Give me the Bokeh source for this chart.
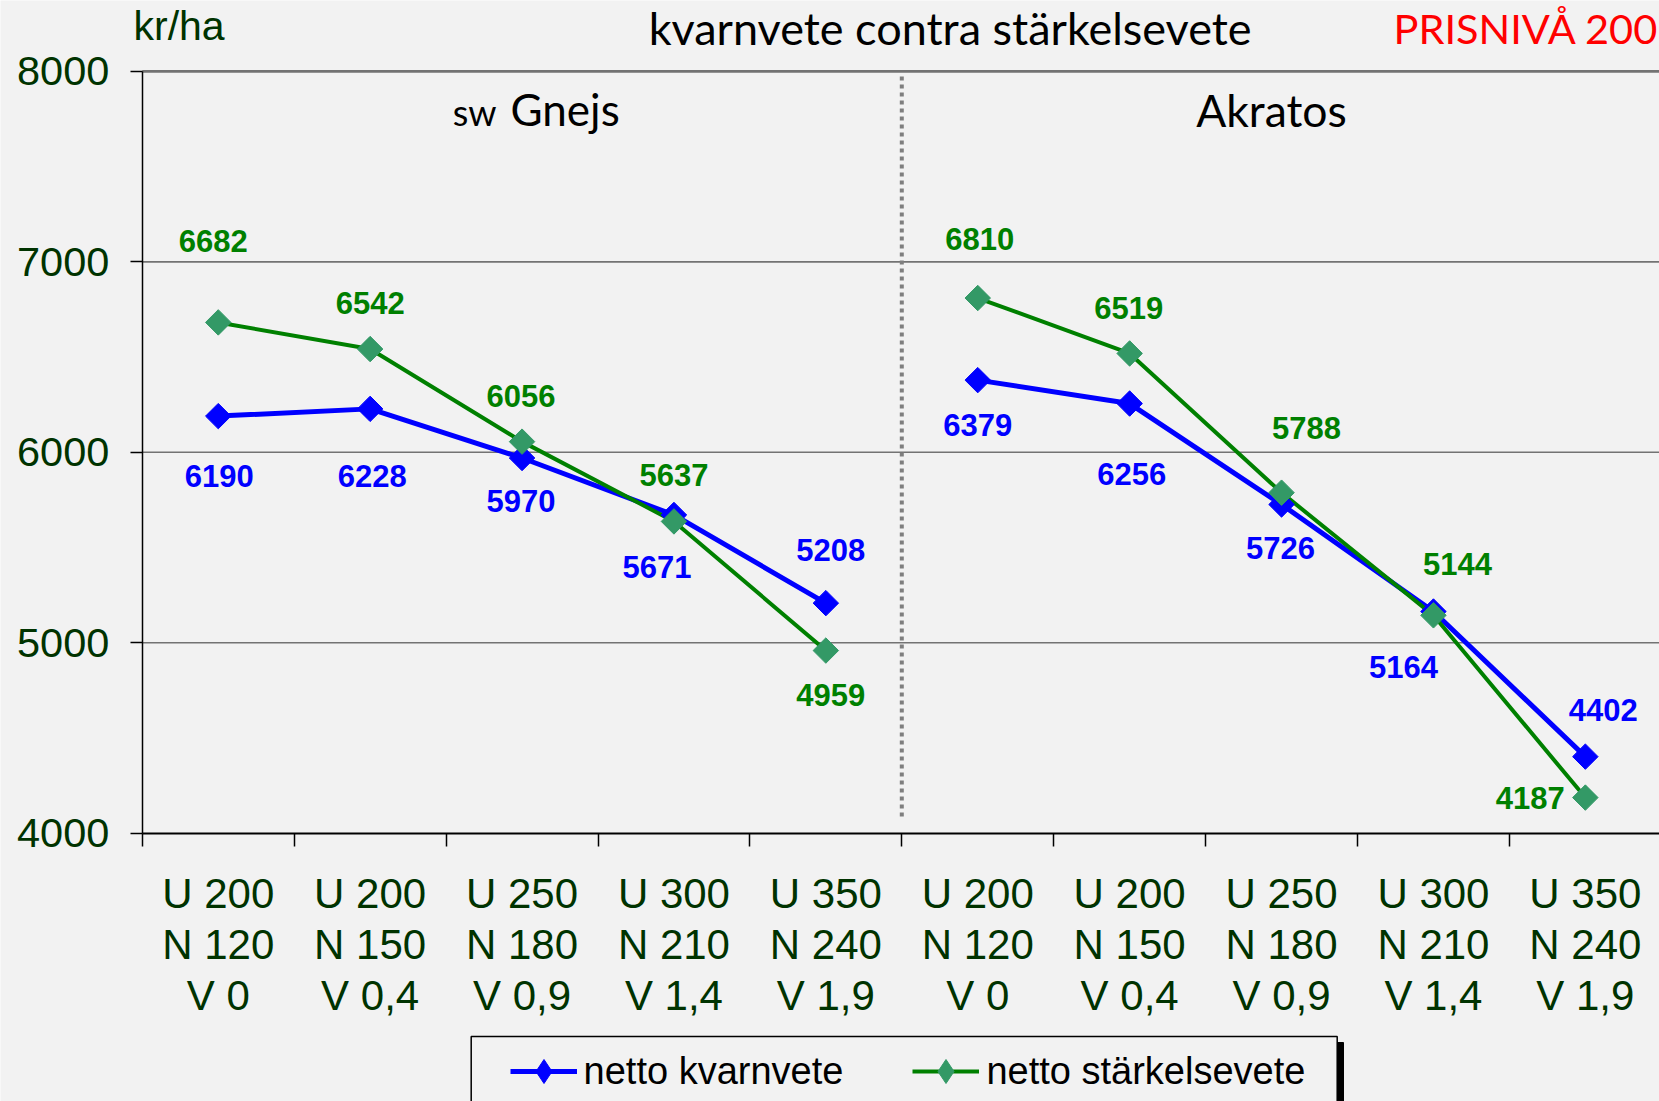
import numpy as np
from bokeh.plotting import figure
from bokeh.models import (ColumnDataSource, FixedTicker, Range1d, Legend,
                          LegendItem, BoxAnnotation)
from bokeh.core.properties import value
from bokeh.embed import file_html
from bokeh.resources import INLINE

# ---------------- data ----------------
groups = ["sw Gnejs", "Akratos"]
treatments = ["U 200\nN 120\nV 0", "U 200\nN 150\nV 0,4", "U 250\nN 180\nV 0,9",
              "U 300\nN 210\nV 1,4", "U 350\nN 240\nV 1,9"]
categories = treatments + treatments
kvarnvete = [6190, 6228, 5970, 5671, 5208, 6379, 6256, 5726, 5164, 4402]
starkelsevete = [6682, 6542, 6056, 5637, 4959, 6810, 6519, 5788, 5144, 4187]
y_ticks = [4000, 5000, 6000, 7000, 8000]
series_names = ["netto kvarnvete", "netto stärkelsevete"]
title_text = "kvarnvete contra stärkelsevete"
price_text = "PRISNIVÅ 200"
unit_text = "kr/ha"

# label placement offsets (pixels)
kv_dx = [1, 2, -1, -17, 5, 0, 2, -1, -30, 18]
kv_dy = [60, 67, 43, 52, -53, 45, 70, 44, 55, -47]
st_dx = [-5, 0, -1, 0, 5, 2, -1, 25, 24, -55]
st_dy = [-81, -46, -46, -46, 44, -59, -45, -65, -51, 0]

# ---------------- layout (pixels) ----------------
W, H = 1659, 1101
X0_PX, CAT_PX = 141.8, 151.9          # pixel of x=0, width of one category
YTOP_PX, YBOT_PX = 70.9, 832.7         # pixel of top / bottom y tick
ppu = (YBOT_PX - YTOP_PX) / (y_ticks[-1] - y_ticks[0])


def dx(px):
    return (px - X0_PX) / CAT_PX


def dy(py):
    return y_ticks[0] + (YBOT_PX - py) / ppu


DARK_GREEN = "#003300"
BG = "#f2f2f2"
BLUE = "#0000ff"
GREEN = "#008000"
GREEN_MK = "#339966"
ARIAL = "Liberation Sans"
CALIBRI = "Lato"

ncat = len(categories)
xpos = [i + 0.5 for i in range(ncat)]

p = figure(width=W, height=H, output_backend="svg", toolbar_location=None, title=None,
           x_range=Range1d(dx(0), dx(W)), y_range=Range1d(dy(H), dy(0)),
           min_border=0, min_border_left=0, min_border_right=0,
           min_border_top=0, min_border_bottom=0,
           background_fill_color=BG, border_fill_color=BG, outline_line_color=None)

# axes drawn at fixed data locations
xa = p.xaxis[0]
xa.fixed_location = y_ticks[0]
xa.bounds = (0, ncat)
xa.ticker = FixedTicker(ticks=xpos, minor_ticks=list(range(ncat + 1)))
xa.major_label_overrides = {x: c for x, c in zip(xpos, categories)}
xa.major_tick_out = 0
xa.major_tick_in = 0
xa.minor_tick_out = 13
xa.minor_tick_in = 0
xa.minor_tick_line_color = "black"
xa.minor_tick_line_width = 1.5
xa.axis_line_color = "black"
xa.axis_line_width = 2
xa.major_label_text_font = ARIAL
xa.major_label_text_font_size = "42px"
xa.major_label_text_color = DARK_GREEN
xa.major_label_text_line_height = 1.08
xa.major_label_standoff = 24

ya = p.yaxis[0]
ya.fixed_location = 0
ya.bounds = (y_ticks[0], y_ticks[-1])
ya.ticker = FixedTicker(ticks=y_ticks, minor_ticks=[])
ya.major_tick_out = 12
ya.major_tick_in = 0
ya.major_tick_line_color = "black"
ya.major_tick_line_width = 1.5
ya.axis_line_color = "black"
ya.axis_line_width = 1.5
ya.major_label_text_font = ARIAL
ya.major_label_text_font_size = "41.5px"
ya.major_label_text_color = DARK_GREEN
ya.major_label_standoff = 21

p.xgrid.visible = False
p.ygrid.visible = False

# horizontal grid lines (from the y axis to the right edge)
gy = y_ticks[1:]
p.segment(x0=[0] * len(gy), x1=[ncat] * len(gy), y0=gy, y1=gy,
          line_color="#737373", line_width=[1.6] * (len(gy) - 1) + [2.6])

# dotted separator between groups
p.segment(x0=[len(treatments)], x1=[len(treatments)], y0=[dy(76)], y1=[dy(820)],
          line_color="#7f7f7f", line_width=4, line_dash="4 4")

src = ColumnDataSource(dict(x=xpos, kv=kvarnvete, st=starkelsevete,
                            kvt=[str(v) for v in kvarnvete], stt=[str(v) for v in starkelsevete],
                            kvdx=kv_dx, kvdy=kv_dy, stdx=st_dx, stdy=st_dy))

# series (each group drawn separately)
n = len(treatments)
kv_lines, st_lines = [], []
for g in range(len(groups)):
    sl = slice(g * n, (g + 1) * n)
    kv_lines.append(p.line(xpos[sl], kvarnvete[sl], line_color=BLUE, line_width=5))
    st_lines.append(p.line(xpos[sl], starkelsevete[sl], line_color=GREEN, line_width=4))

# small diamonds (hidden under the markers) provide the legend symbols
leg_kv_pt = p.scatter("x", "kv", source=src, marker="diamond", size=10,
                      fill_color=BLUE, line_color=BLUE)
leg_st_pt = p.scatter("x", "st", source=src, marker="diamond", size=10,
                      fill_color=GREEN_MK, line_color=GREEN_MK)

p.scatter("x", "kv", source=src, marker="square", angle=np.pi / 4, size=18,
          fill_color=BLUE, line_color=BLUE)
p.scatter("x", "st", source=src, marker="square", angle=np.pi / 4, size=18,
          fill_color=GREEN_MK, line_color=GREEN_MK)

p.text("x", "kv", text="kvt", source=src, x_offset="kvdx", y_offset="kvdy",
       text_font=value(ARIAL), text_font_style="bold", text_font_size="31px",
       text_color=BLUE, text_align="center", text_baseline="middle")
p.text("x", "st", text="stt", source=src, x_offset="stdx", y_offset="stdy",
       text_font=value(ARIAL), text_font_style="bold", text_font_size="31px",
       text_color=GREEN, text_align="center", text_baseline="middle")

# group headers
sw, gname = groups[0].split(" ")
p.text([dx(496)], [dy(111.8)], text=[sw], text_font=value(CALIBRI), text_font_size="36px",
       text_align="right", text_baseline="middle", text_color="black")
p.text([dx(510)], [dy(108.7)], text=[gname], text_font=value(CALIBRI), text_font_size="44px",
       text_align="left", text_baseline="middle", text_color="black")
p.text([dx(1271)], [dy(108.7)], text=[groups[1]], text_font=value(CALIBRI),
       text_font_size="44.5px", text_align="center", text_baseline="middle", text_color="black")

# title row
p.text([dx(949.6)], [dy(27)], text=[title_text], text_font=value(CALIBRI),
       text_font_size="45px", text_align="center", text_baseline="middle", text_color="black")
p.text([dx(1393)], [dy(27.5)], text=[price_text], text_font=value(CALIBRI),
       text_font_size="41.5px", text_align="left", text_baseline="middle", text_color="#ff0000")
p.text([dx(133)], [dy(25)], text=[unit_text], text_font=value(ARIAL),
       text_font_size="41px", text_align="left", text_baseline="middle", text_color=DARK_GREEN)

# legend frame with shadow
p.add_layout(BoxAnnotation(left=476, right=1343, top=1042, bottom=1130,
                           left_units="canvas", right_units="canvas",
                           top_units="canvas", bottom_units="canvas",
                           fill_color="black", fill_alpha=1, line_color="black", line_alpha=1))
p.add_layout(BoxAnnotation(left=470.7, right=1336.7, top=1036, bottom=1130,
                           left_units="canvas", right_units="canvas",
                           top_units="canvas", bottom_units="canvas",
                           fill_color=BG, fill_alpha=1, line_color="black", line_width=1.5,
                           line_alpha=1))

legend = Legend(items=[LegendItem(label=series_names[0], renderers=[kv_lines[0], leg_kv_pt]),
                       LegendItem(label=series_names[1], renderers=[st_lines[0], leg_st_pt])],
                orientation="horizontal", location=(509.6, 0),
                label_text_font=ARIAL, label_text_font_size="38px", label_text_color="black",
                glyph_width=67, glyph_height=60, label_standoff=7, spacing=69, padding=10,
                margin=0, border_line_color=None, background_fill_alpha=0)
p.add_layout(legend)

open("out.html", "w").write(file_html(p, INLINE))
